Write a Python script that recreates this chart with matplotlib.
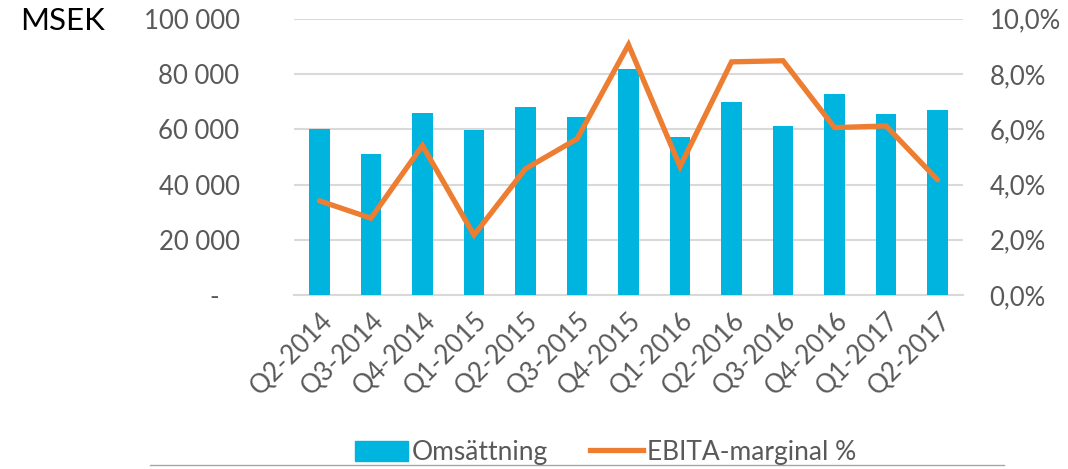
import matplotlib
matplotlib.use("Agg")
import matplotlib.pyplot as plt
from matplotlib.ticker import FuncFormatter, MultipleLocator
from matplotlib.lines import Line2D

categories = ["Q2-2014", "Q3-2014", "Q4-2014", "Q1-2015", "Q2-2015", "Q3-2015", "Q4-2015",
              "Q1-2016", "Q2-2016", "Q3-2016", "Q4-2016", "Q1-2017", "Q2-2017"]
omsattning = [60100, 51200, 66000, 59800, 67900, 64500, 81900,
              57300, 70000, 61100, 72800, 65700, 67000]
ebita_pct = [3.41, 2.78, 5.41, 2.17, 4.57, 5.65, 9.06,
             4.65, 8.44, 8.48, 6.06, 6.12, 4.17]

plt.rcParams['font.family'] = ['Lato', 'DejaVu Sans']
TXT = '#595959'
BAR = '#00B4E0'
LINE = '#ED7D31'
GRID = '#D9D9D9'

fig = plt.figure(figsize=(10.68, 4.69), dpi=100)
ax = fig.add_axes([0.275, 0.371, 0.627, 0.589])
ax2 = ax.twinx()

x = list(range(len(categories)))
ax.bar(x, omsattning, width=0.4, color=BAR, zorder=3, label='Omsättning')
ax2.plot(x, ebita_pct, color=LINE, lw=3.8, solid_joinstyle='miter', solid_capstyle='round',
         zorder=4, label='EBITA-marginal %')

ax.set_xlim(-0.5, len(categories) - 0.5)
ax.set_ylim(0, 100000)
ax2.set_ylim(0, 10)
ax.yaxis.set_major_locator(MultipleLocator(20000))
ax2.yaxis.set_major_locator(MultipleLocator(2))

def fmt_left(v, p):
    if v == 0:
        return '-   '
    return f"{int(v):,}".replace(',', ' ')

ax.yaxis.set_major_formatter(FuncFormatter(fmt_left))
ax2.yaxis.set_major_formatter(FuncFormatter(lambda v, p: f"{v:.1f}%".replace('.', ',')))

ax.grid(axis='y', color=GRID, lw=1.5, zorder=0)
ax.set_axisbelow(True)
for a in (ax, ax2):
    for s in a.spines.values():
        s.set_visible(False)
    a.tick_params(length=0, colors=TXT, labelsize=18.5)
ax.spines['bottom'].set_visible(True)
ax.spines['bottom'].set_color(GRID)
ax.spines['bottom'].set_linewidth(1.5)
ax.tick_params(axis='y', pad=39)
ax2.tick_params(axis='y', pad=19)

ax.set_xticks(x)
ax.set_xticklabels(categories, rotation=45, ha='right', rotation_mode='anchor')
ax.tick_params(axis='x', pad=9)

fig.text(0.019, 0.955, 'MSEK', fontsize=22.5, color='#000000', va='center', ha='left')

handles = [plt.Rectangle((0, 0), 1, 1, color=BAR),
           Line2D([0], [0], color=LINE, lw=3.8)]
fig.legend(handles, ['Omsättning', 'EBITA-marginal %'], loc='center',
           bbox_to_anchor=(0.567, 0.035), ncol=2, frameon=False, fontsize=19,
           handlelength=2.0, handleheight=0.8, handletextpad=0.15, columnspacing=1.6,
           labelcolor=TXT)

fig.add_artist(Line2D([0.14, 0.94], [0.008, 0.008], color='#A6A6A6', lw=1.0,
                      transform=fig.transFigure))

fig.savefig('out.png', dpi=100)
